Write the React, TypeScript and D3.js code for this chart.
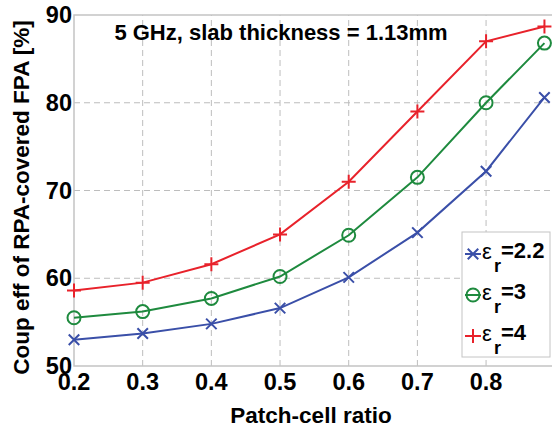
import React from "react";
import * as d3 from "d3";

// patch-cell ratio
const ratios = [0.2, 0.3, 0.4, 0.5, 0.6, 0.7, 0.8, 0.885];
// coupling efficiency [%]
const eps22 = [53.0, 53.7, 54.8, 56.6, 60.1, 65.2, 72.2, 80.6];
const eps3 = [55.5, 56.2, 57.7, 60.2, 64.9, 71.5, 80.0, 86.8];
const eps4 = [58.6, 59.5, 61.6, 65.0, 71.0, 79.0, 87.0, 88.7];

const xTicks = [0.2, 0.3, 0.4, 0.5, 0.6, 0.7, 0.8];
const yTicks = [50, 60, 70, 80, 90];

const series = [
  { label: "2.2", values: eps22, color: "#3a4fa8", marker: "x" },
  { label: "3", values: eps3, color: "#1e8a3e", marker: "o" },
  { label: "4", values: eps4, color: "#e8222b", marker: "+" },
];

const W = 552;
const H = 430;
const margin = { left: 74, right: 0, top: 15, bottom: 64 };
const font = "'Liberation Sans', Arial, sans-serif";

function Marker({ type, x, y, color }: { type: string; x: number; y: number; color: string }) {
  const s = 7;
  if (type === "o") {
    return <circle cx={x} cy={y} r={6.5} fill="none" stroke={color} strokeWidth={2} />;
  }
  if (type === "+") {
    return (
      <path d={`M${x - s},${y}H${x + s}M${x},${y - s}V${y + s}`} stroke={color} strokeWidth={2} />
    );
  }
  const d = s * 0.75;
  return (
    <path
      d={`M${x - d},${y - d}L${x + d},${y + d}M${x - d},${y + d}L${x + d},${y - d}`}
      stroke={color}
      strokeWidth={2}
    />
  );
}

export default function App() {
  const x = d3.scaleLinear().domain([0.2, 0.896]).range([margin.left, W - margin.right]);
  const y = d3.scaleLinear().domain([50, 90]).range([H - margin.bottom, margin.top]);
  const line = d3
    .line<number>()
    .x((_, i) => x(ratios[i]))
    .y((d) => y(d));

  const x0 = x.range()[0];
  const x1 = x.range()[1];
  const yb = y(50);
  const yt = y(90);

  const legend = { x: 462, y: 232, w: 88, h: 125 };

  return (
    <div style={{ position: "absolute", left: 0, top: 0 }}>
      <svg width={W} height={H} style={{ display: "block", background: "#fff" }} fontFamily={font}>
        {/* grid */}
        {xTicks.slice(1).map((t) => (
          <line key={"gx" + t} x1={x(t)} x2={x(t)} y1={yb} y2={yt} stroke="#bdbdbd" strokeDasharray="6,4" />
        ))}
        {yTicks.slice(1, -1).map((t) => (
          <line key={"gy" + t} x1={x0} x2={x1} y1={y(t)} y2={y(t)} stroke="#bdbdbd" strokeDasharray="6,4" />
        ))}
        {/* frame */}
        <path d={`M${x1},${yt}H${x0}V${yb}H${x1}`} fill="none" stroke="#c4c4c4" strokeWidth={1.5} />

        {/* series */}
        {series.map((s) => (
          <g key={s.label}>
            <path d={line(s.values) || ""} fill="none" stroke={s.color} strokeWidth={2} />
            {s.values.map((v, i) => (
              <Marker key={i} type={s.marker} x={x(ratios[i])} y={y(v)} color={s.color} />
            ))}
          </g>
        ))}

        {/* ticks */}
        {xTicks.map((t) => (
          <text key={"tx" + t} x={x(t)} y={yb + 24} textAnchor="middle" fontSize={23.5} fontWeight="bold">
            {t.toFixed(1)}
          </text>
        ))}
        {yTicks.map((t) => (
          <text key={"ty" + t} x={x0 - 2} y={y(t) + 8} textAnchor="end" fontSize={23.5} fontWeight="bold">
            {t}
          </text>
        ))}

        {/* title */}
        <text x={281} y={40} textAnchor="middle" fontSize={22} fontWeight="bold">
          5 GHz, slab thickness = 1.13mm
        </text>

        {/* axis labels */}
        <text x={(x0 + x1) / 2 - 2} y={423} textAnchor="middle" fontSize={22.5} fontWeight="bold">
          Patch-cell ratio
        </text>
        <text
          transform={`translate(29,${(yt + yb) / 2 + 7}) rotate(-90)`}
          textAnchor="middle"
          fontSize={22.5}
          fontWeight="bold"
        >
          Coup eff of RPA-covered FPA [%]
        </text>

        {/* legend */}
        <rect x={legend.x} y={legend.y} width={legend.w} height={legend.h} fill="#fff" stroke="#c4c4c4" />
        {series.map((s, i) => {
          const cy = 254 + i * 41;
          return (
            <g key={"lg" + s.label}>
              <line x1={465} x2={481} y1={cy} y2={cy} stroke={s.color} strokeWidth={2} />
              <Marker type={s.marker} x={473} y={cy} color={s.color} />
              <text x={482} y={cy + 5} fontSize={22}>
                ε
              </text>
              <text x={494} y={cy + 18} fontSize={18} fontWeight="bold">
                r
              </text>
              <text x={501} y={cy + 4} fontSize={22} fontWeight="bold">
                ={s.label}
              </text>
            </g>
          );
        })}
      </svg>
    </div>
  );
}
